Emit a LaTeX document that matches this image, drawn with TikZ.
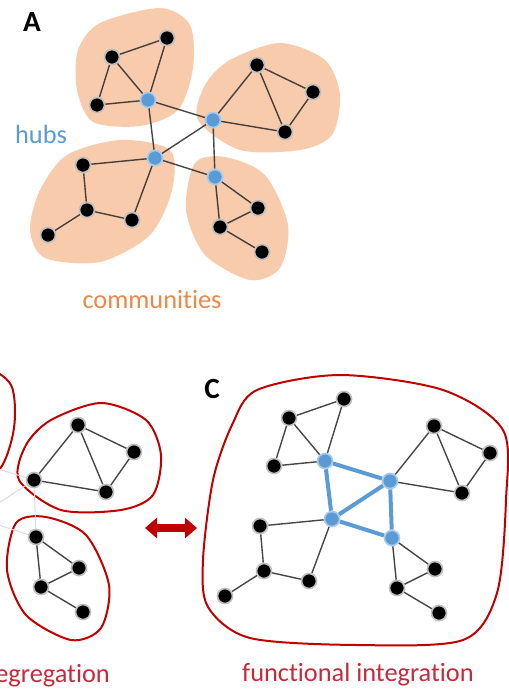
\documentclass[tikz,border=0pt]{standalone}
\usepackage{fontspec}
\setmainfont[Ligatures=NoCommon]{Carlito}
\usepackage{tikz}
\usetikzlibrary{arrows.meta,backgrounds}
\definecolor{peach}{HTML}{F8CBAD}
\definecolor{hubblue}{HTML}{5B9BD5}
\definecolor{halo}{HTML}{A9C9EA}
\definecolor{segred}{HTML}{C00000}
\definecolor{txtred}{HTML}{C42B3B}
\definecolor{txtorange}{HTML}{E8894A}

\begin{document}
\begin{tikzpicture}[x=0.3mm,y=-0.3mm,
  font=\fontsize{22.5}{27}\selectfont,
  nd/.style={circle,fill=black,draw=gray!50,line width=0.5mm,minimum size=4.5mm,inner sep=0pt},
  hub/.style={nd,fill=hubblue,draw=halo},
  link/.style={draw=black!85,draw opacity=0.85,line width=0.42mm},
  faint/.style={draw=black!14,line width=0.3mm},
  core/.style={draw=hubblue,line width=1.2mm},
  comm/.style={fill=peach},
  seg/.style={draw=segred,line width=0.6mm},
  panel/.style={font=\fontsize{25}{30}\selectfont\bfseries}]
  \useasboundingbox (0,0) rectangle (508,692);
  % --- community blobs: filled in A, outlined in B ---
  \foreach \dx/\dy/\bst in {0/0/comm,-179/360/seg}{
    \begin{scope}[on background layer,shift={(\dx,\dy)}]
      \path[\bst] plot[smooth cycle] coordinates {(100,23) (160,8) (190,25) (193,68) (178,110) (140,126) (93,122) (77,90) (78,50)};
      \path[\bst] plot[smooth cycle] coordinates {(230,60) (280,43) (325,60) (340,95) (332,135) (300,150) (240,150) (198,120) (205,85)};
      \path[\bst] plot[smooth cycle] coordinates {(67,155) (120,140) (170,150) (172,190) (150,235) (100,262) (45,258) (30,230) (40,190)};
      \path[\bst] plot[smooth cycle] coordinates {(195,163) (225,157) (265,175) (288,225) (280,268) (250,280) (205,255) (186,210)};
    \end{scope}}
  % --- one outline round the whole network in C ---
  \draw[seg] plot[smooth cycle] coordinates {(257,390) (340,375) (443,390) (503,430) (506,500) (497,593) (463,640) (357,645) (250,638) (208,607) (203,560) (213,480) (232,425)};
  % --- the same network in all three panels ---
  \foreach \pn/\dx/\dy/\hst/\hl in {a/0/0/hub/link,b/-179/360/nd/faint,c/177/361/hub/core}{
    \begin{scope}[shift={(\dx,\dy)},name prefix=\pn-]
      \node[\hst] (h1) at (148,100) {};
      \node[\hst] (h2) at (213,120) {};
      \node[\hst] (h3) at (155,158) {};
      \node[\hst] (h4) at (215,177) {};
      \foreach \v/\x/\y in {n1/112/57,n2/167/38,n3/97/105,m1/257/65,m2/313/92,m3/285/132,
          p1/83/165,p2/87/210,p3/132/220,p4/48/235,q1/258/208,q2/220/227,q3/262/252}
        \node[nd] (\v) at (\x,\y) {};
      \begin{scope}[on background layer]
        \foreach \u/\v in {n1/n2,n2/h1,n1/h1,n1/n3,n3/h1,m1/m2,m2/m3,m1/m3,m1/h2,h2/m3,
            h3/p1,p1/p2,p2/p3,p3/h3,p2/p4,h4/q1,h4/q2,q1/q2,q2/q3}
          \draw[link] (\u) -- (\v);
        \foreach \u/\v in {h1/h2,h1/h3,h2/h3,h2/h4,h3/h4}
          \draw[\hl] (\u) -- (\v);
      \end{scope}
    \end{scope}}
  % --- labels ---
  \node[panel] (la) at (32,22) {A};
  \node[text=hubblue,anchor=base] (hubs) at (41,143) {hubs};
  \node[text=txtorange,anchor=base] (comms) at (152,308) {communities};
  \node[panel] (lc) at (212,389) {C};
  \node[text=txtred,anchor=base east,inner sep=0pt] (segr) at (110,682) {segregation};
  \node[text=txtred,anchor=base] (integ) at (358,681) {functional integration};
  % --- double arrow between B and C ---
  \coordinate (al) at (145,528);
  \coordinate (ar) at (197,528);
  \draw[segred,line width=2.4mm,{Triangle[width=6mm,length=3.6mm]}-{Triangle[width=6mm,length=3.6mm]}] (al) -- (ar);
\end{tikzpicture}
\end{document}
